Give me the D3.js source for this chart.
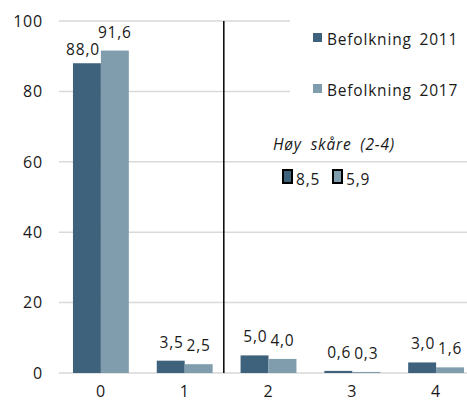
<!DOCTYPE html>
<html>
<head>
    <meta charset="utf-8">
    <title>Befolkning 2011 / 2017</title>
    <script src="https://d3js.org/d3.v7.min.js" charset="utf-8"></script>
    <style type="text/css">
        body {
            margin: 0;
            background: #fff;
            font-family: "Open Sans", sans-serif;
        }
        text {
            fill: #1a1a1a;
            letter-spacing: 0.8px;
        }
        .grid line {
            stroke: #d9d9d9;
            stroke-width: 1.5px;
        }
        .tick-label {
            font-size: 16px;
        }
        .value-label {
            font-size: 15.5px;
        }
    </style>
</head>
<body>
<script type="text/javascript">
    // data
    var categories = ["0", "1", "2", "3", "4"];
    var seriesNames = ["Befolkning 2011", "Befolkning 2017"];
    var values2011 = [88.0, 3.5, 5.0, 0.6, 3.0];
    var values2017 = [91.6, 2.5, 4.0, 0.3, 1.6];
    var yTicks = [0, 20, 40, 60, 80, 100];
    var highScoreTitle = "Høy skåre (2-4)";
    var highScore = [8.5, 5.9];

    var colors = ["#3e627b", "#7f9dac"];
    var series = [values2011, values2017];

    var width = 467,
        height = 401;

    var fmt = function (v) { return d3.format(".1f")(v).replace(".", ","); };

    var svg = d3.select("body").append("svg")
        .attr("width", width)
        .attr("height", height);

    var x = d3.scaleBand()
        .domain(categories)
        .range([59, 478])
        .paddingInner(1 / 3)
        .paddingOuter(1 / 6);

    var x1 = d3.scaleBand()
        .domain(d3.range(series.length))
        .range([0, x.bandwidth()]);

    var y = d3.scaleLinear()
        .domain([0, 100])
        .range([373, 21]);

    // gridlines
    svg.append("g")
        .attr("class", "grid")
        .selectAll("line")
        .data(yTicks)
        .enter().append("line")
        .attr("x1", 59)
        .attr("x2", width)
        .attr("y1", function (d) { return y(d); })
        .attr("y2", function (d) { return y(d); });

    // y tick labels
    svg.append("g")
        .selectAll("text")
        .data(yTicks)
        .enter().append("text")
        .attr("class", "tick-label")
        .attr("x", 43)
        .attr("y", function (d) { return y(d); })
        .attr("dy", "0.36em")
        .attr("text-anchor", "end")
        .text(function (d) { return d; });

    // x tick labels
    svg.append("g")
        .selectAll("text")
        .data(categories)
        .enter().append("text")
        .attr("class", "tick-label")
        .attr("x", function (d) { return x(d) + x.bandwidth() / 2; })
        .attr("y", 397)
        .attr("text-anchor", "middle")
        .text(function (d) { return d; });

    // bars
    var groups = svg.append("g")
        .selectAll("g")
        .data(categories)
        .enter().append("g")
        .attr("transform", function (d) { return "translate(" + x(d) + ",0)"; });

    groups.selectAll("rect")
        .data(function (d, i) { return series.map(function (s, j) { return { s: j, v: s[i] }; }); })
        .enter().append("rect")
        .attr("x", function (d) { return x1(d.s); })
        .attr("width", x1.bandwidth())
        .attr("y", function (d) { return y(d.v); })
        .attr("height", function (d) { return y(0) - y(d.v); })
        .attr("fill", function (d) { return colors[d.s]; });

    // value labels: 2011 right-aligned to the bar join, 2017 centred
    groups.selectAll("text")
        .data(function (d, i) { return series.map(function (s, j) { return { s: j, v: s[i] }; }); })
        .enter().append("text")
        .attr("class", "value-label")
        .attr("x", function (d) {
            return d.s === 0 ? x1.bandwidth() - 1 : x1(d.s) + x1.bandwidth() / 2;
        })
        .attr("y", function (d) { return y(d.v) - (d.s === 0 && d.v > 50 ? 8 : 13); })
        .attr("text-anchor", function (d) { return d.s === 0 ? "end" : "middle"; })
        .text(function (d) { return fmt(d.v); });

    // divider between score 1 and 2
    var divX = x("2") - x.step() / 5;
    svg.append("line")
        .attr("x1", divX).attr("x2", divX)
        .attr("y1", y(100)).attr("y2", y(0))
        .attr("stroke", "#000")
        .attr("stroke-width", 1.5);

    // legend (white box hides the gridlines behind it)
    svg.append("rect")
        .attr("x", 290).attr("y", 0)
        .attr("width", width - 290).attr("height", 120)
        .attr("fill", "#fff");

    var legend = svg.append("g")
        .selectAll("g")
        .data(seriesNames)
        .enter().append("g")
        .attr("transform", function (d, i) { return "translate(313," + (33 + i * 51) + ")"; });

    legend.append("rect")
        .attr("width", 9).attr("height", 9)
        .attr("fill", function (d, i) { return colors[i]; });

    legend.append("text")
        .attr("x", 14)
        .attr("y", 12)
        .style("font-size", "15.5px")
        .style("word-spacing", "3px")
        .text(function (d) { return d; });

    // high score annotation
    svg.append("text")
        .attr("x", 273)
        .attr("y", 150)
        .style("font-size", "15.5px")
        .style("font-style", "italic")
        .style("word-spacing", "4px")
        .text(highScoreTitle);

    var hs = svg.append("g")
        .selectAll("g")
        .data(highScore)
        .enter().append("g")
        .attr("transform", function (d, i) { return "translate(" + (283 + i * 50) + ",170)"; });

    hs.append("rect")
        .attr("width", 9).attr("height", 13)
        .attr("fill", function (d, i) { return colors[i]; })
        .attr("stroke", "#000")
        .attr("stroke-width", 2);

    hs.append("text")
        .attr("x", 13)
        .attr("y", 15)
        .style("font-size", "15.5px")
        .text(function (d) { return fmt(d); });
</script>
</body>
</html>
